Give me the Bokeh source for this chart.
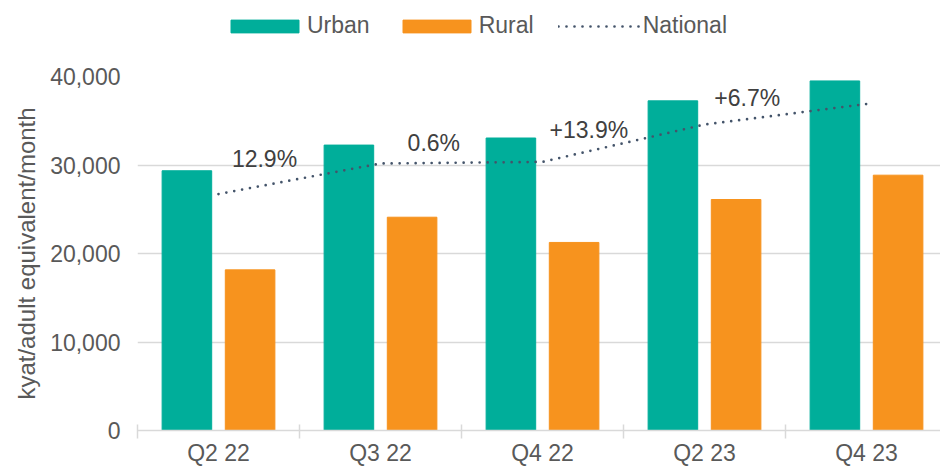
import numpy as np
from bokeh.plotting import figure
from bokeh.layouts import column
from bokeh.models import Range1d, FixedTicker, Legend, LegendItem, ColumnDataSource
from bokeh.embed import file_html
from bokeh.resources import INLINE
from bokeh.core.properties import value

# ---- data ----
quarters = ["Q2 22", "Q3 22", "Q4 22", "Q2 23", "Q4 23"]
urban = [29350, 32250, 33050, 37250, 39500]
rural = [18150, 24100, 21250, 26100, 28850]
national = [26720, 30170, 30350, 34570, 36890]
changes = ["12.9%", "0.6%", "+13.9%", "+6.7%"]
series_names = ["Urban", "Rural", "National"]

# ---- styling / placement ----
FONT = "Liberation Sans"
TEAL = "#00AE9A"
ORANGE = "#F7931E"
LINE = "#44546A"
GRID = "#D9D9D9"
TXT = "#595959"
LEG_H = 46

x = np.arange(len(quarters))
off = 0.195
bw = 0.306

p = figure(width=940, height=468 - LEG_H, output_backend="svg", toolbar_location=None,
           x_range=Range1d(-0.5, -0.5 + 803 / 162), y_range=Range1d(0, 40000),
           min_border_left=137, min_border_right=0, min_border_top=76 - LEG_H, min_border_bottom=38)
p.outline_line_color = None
p.background_fill_color = "white"
p.border_fill_color = "white"

src = ColumnDataSource(dict(x=x, xu=x - off, xr=x + off, urban=urban, rural=rural, national=national))


def draw_series(fig, visible=True):
    r1 = fig.vbar(x="xu", top="urban", width=bw, source=src, fill_color=TEAL, line_color=TEAL)
    r2 = fig.vbar(x="xr", top="rural", width=bw, source=src, fill_color=ORANGE, line_color=ORANGE)
    r3 = fig.line(x="x", y="national", source=src, line_color=LINE, line_width=2.7,
                  line_dash="0 8", line_cap="round")
    for r in (r1, r2, r3):
        r.visible = visible
    return [r1, r2, r3]


draw_series(p)

# change labels placed along the national line segments
dx = [-0.216, -0.171, -0.214, -0.236]
dy = [2950, 2300, 2400, 2350]
lx, ly = [], []
for i in range(len(changes)):
    xx = i + 0.5 + dx[i]
    yy = np.interp(xx, x, national) + dy[i]
    lx.append(xx)
    ly.append(yy)
p.text(x=lx, y=ly, text=changes, text_align="center", text_baseline="middle",
       text_font=value(FONT), text_font_size="23px", text_color="#404040")

# axes
xa = p.xaxis[0]
xa.ticker = FixedTicker(ticks=list(x), minor_ticks=[i - 0.5 for i in range(len(quarters) + 1)])
xa.major_label_overrides = {int(i): q for i, q in zip(x, quarters)}
xa.major_tick_line_color = None
xa.major_tick_out = 0
xa.major_tick_in = 0
xa.minor_tick_in = 6
xa.minor_tick_out = 8
xa.minor_tick_line_color = GRID
xa.minor_tick_line_width = 1.5
xa.axis_line_color = GRID
xa.axis_line_width = 1.5
xa.major_label_text_font = FONT
xa.major_label_text_font_size = "23px"
xa.major_label_text_color = TXT
xa.major_label_standoff = 1

ya = p.yaxis[0]
ya.ticker = FixedTicker(ticks=[0, 10000, 20000, 30000, 40000])
ya.formatter.use_scientific = False
ya.major_label_overrides = {0: "0", 10000: "10,000", 20000: "20,000", 30000: "30,000", 40000: "40,000"}
ya.axis_line_color = None
ya.major_tick_line_color = None
ya.minor_tick_line_color = None
ya.major_tick_out = 0
ya.major_label_standoff = 17
ya.major_label_text_font = FONT
ya.major_label_text_font_size = "23px"
ya.major_label_text_color = TXT
ya.axis_label = "kyat/adult equivalent/month"
ya.axis_label_text_font = FONT
ya.axis_label_text_font_size = "24px"
ya.axis_label_text_font_style = "normal"
ya.axis_label_text_color = TXT
ya.axis_label_standoff = 7

p.xgrid.grid_line_color = None
p.ygrid.grid_line_color = GRID
p.ygrid.grid_line_width = 1.5

# ---- legend strip (its own small figure above the chart; key renderers hidden) ----
lg = figure(width=940, height=LEG_H, output_backend="svg", toolbar_location=None,
            x_range=Range1d(100, 101), y_range=Range1d(100, 101),
            min_border_left=0, min_border_right=0, min_border_top=0, min_border_bottom=0,
            x_axis_location=None, y_axis_location=None)
lg.outline_line_color = None
lg.xgrid.grid_line_color = None
lg.ygrid.grid_line_color = None
keys = draw_series(lg, visible=False)
legend = Legend(items=[LegendItem(label=n, renderers=[r]) for n, r in zip(series_names, keys)],
                orientation="horizontal", location=(85, 7),
                glyph_width=85, glyph_height=16, label_standoff=-1, spacing=24,
                padding=0, margin=0, border_line_color=None, background_fill_alpha=0,
                inactive_fill_alpha=0,
                label_text_font=FONT, label_text_font_size="23px", label_text_color=TXT)
lg.add_layout(legend, "center")

layout = column(lg, p, spacing=0)
open("out.html", "w").write(file_html(layout, INLINE))
